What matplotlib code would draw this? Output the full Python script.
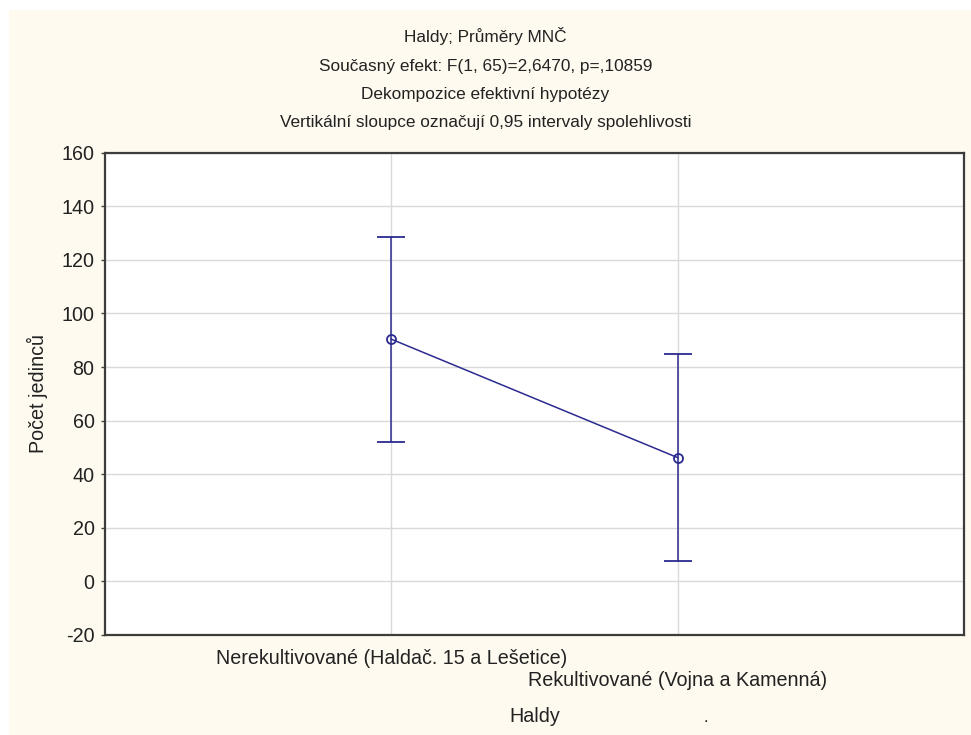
import matplotlib
matplotlib.use('Agg')
import matplotlib.pyplot as plt
from matplotlib.patches import Rectangle

# data
groups = ['Nerekultivované (Haldač. 15 a Lešetice)', 'Rekultivované (Vojna a Kamenná)']
means = [90.4, 46.2]
ci_half = [38.2, 38.5]
title_lines = ['Haldy; Průměry MNČ',
               'Současný efekt: F(1, 65)=2,6470, p=,10859',
               'Dekompozice efektivní hypotézy',
               'Vertikální sloupce označují 0,95 intervaly spolehlivosti']
y_ticks = [-20, 0, 20, 40, 60, 80, 100, 120, 140, 160]

plt.rcParams['font.family'] = ['Liberation Sans', 'DejaVu Sans']
plt.rcParams['axes.unicode_minus'] = False

W, H = 971, 735
fig = plt.figure(figsize=(W / 100, H / 100), dpi=100)
fig.patch.set_facecolor('white')
# cream panel behind everything
fig.patches.append(Rectangle((9 / W, 0), 1 - 9 / W, (H - 10) / H,
                             transform=fig.transFigure, facecolor='#fefaef',
                             edgecolor='none', zorder=-10))

ax = fig.add_axes([105 / W, 1 - 635 / H, (964 - 105) / W, (635 - 152.7) / H])
ax.set_facecolor('white')

x = list(range(len(groups)))
navy = '#2b2b8f'
ax.plot(x, means, color=navy, lw=1.1, zorder=3)
ax.errorbar(x, means, yerr=ci_half, fmt='o', color=navy, ecolor=navy,
            elinewidth=1.1, capsize=10, capthick=1.1, ms=6.5, mfc='none',
            mec=navy, mew=1.3, zorder=4)

ax.set_xlim(-1.0, 2.0)
ax.set_ylim(-20, 160)
ax.set_yticks(y_ticks)
ax.set_xticks(x)
ax.set_xticklabels(groups, fontsize=14.2, color='#222222')
for t in ax.get_yticklabels():
    t.set_fontsize(14.2)
    t.set_color('#222222')

ax.grid(True, color='#d9d9d9', lw=1.0)
ax.set_axisbelow(True)
ax.tick_params(axis='y', length=3, width=1, color='#444444', pad=4.5)
ax.tick_params(axis='x', length=0, pad=10)
# staggered category labels, second one lower
ax.xaxis.get_major_ticks()[1].set_pad(26)
for s in ax.spines.values():
    s.set_color('#3c3c3c')
    s.set_linewidth(1.6)

ax.set_ylabel('Počet jedinců', fontsize=14.2, color='#222222', va='center')
ax.yaxis.set_label_coords(-0.079, 0.5)
ax.set_xlabel('Haldy', fontsize=14.2, color='#222222')
ax.xaxis.set_label_coords(0.5, -(716 - 635) / (635 - 152.7))
ax.xaxis.label.set_va('center')

ys = [36, 66, 94, 122]
for line, yy in zip(title_lines, ys):
    fig.text(0.5, 1 - yy / H, line, ha='center', va='center',
             fontsize=12.4, color='#222222')

fig.text(706 / W, 1 - 718 / H, '.', ha='center', va='center', fontsize=12, color='#222222')

fig.savefig('out.png', dpi=100, facecolor=fig.get_facecolor())
